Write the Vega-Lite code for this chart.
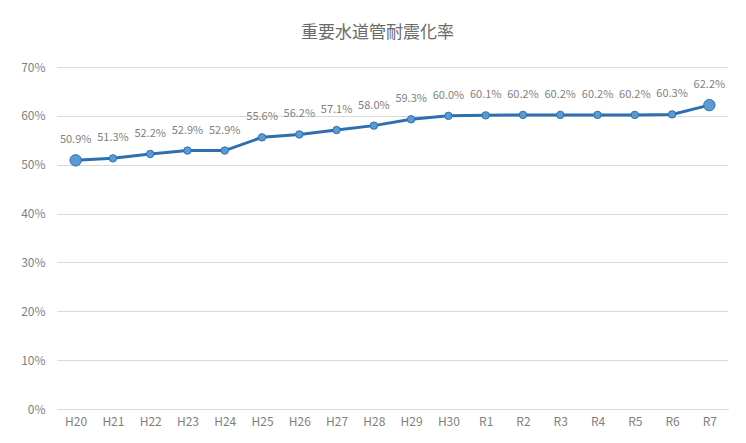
{
  "$schema": "https://vega.github.io/schema/vega-lite/v6.json",
  "width": 671,
  "height": 342,
  "autosize": {"type": "none"},
  "padding": {"left": 57, "top": 67, "right": 18, "bottom": 34},
  "background": "white",
  "title": {
    "text": "重要水道管耐震化率",
    "font": "Noto Sans CJK JP",
    "fontSize": 17,
    "fontWeight": "normal",
    "color": "#6a6a6a",
    "anchor": "middle",
    "dx": -15,
    "offset": 19
  },
  "config": {
    "view": {"stroke": null},
    "font": "Noto Sans CJK JP"
  },
  "data": {
    "values": [
      {"year": "H20", "rate": 0.509, "big": true},
      {"year": "H21", "rate": 0.513, "big": false},
      {"year": "H22", "rate": 0.522, "big": false},
      {"year": "H23", "rate": 0.529, "big": false},
      {"year": "H24", "rate": 0.529, "big": false},
      {"year": "H25", "rate": 0.556, "big": false},
      {"year": "H26", "rate": 0.562, "big": false},
      {"year": "H27", "rate": 0.571, "big": false},
      {"year": "H28", "rate": 0.580, "big": false},
      {"year": "H29", "rate": 0.593, "big": false},
      {"year": "H30", "rate": 0.600, "big": false},
      {"year": "R1", "rate": 0.601, "big": false},
      {"year": "R2", "rate": 0.602, "big": false},
      {"year": "R3", "rate": 0.602, "big": false},
      {"year": "R4", "rate": 0.602, "big": false},
      {"year": "R5", "rate": 0.602, "big": false},
      {"year": "R6", "rate": 0.603, "big": false},
      {"year": "R7", "rate": 0.622, "big": true}
    ]
  },
  "encoding": {
    "x": {
      "field": "year",
      "type": "ordinal",
      "sort": null,
      "scale": {"type": "point", "padding": 0.5},
      "axis": {
        "title": null,
        "labelAngle": 0,
        "labelFontSize": 12,
        "labelColor": "#7f7f7f",
        "labelPadding": 7,
        "ticks": false,
        "domainColor": "#d9d9d9",
        "domainWidth": 1,
        "grid": false
      }
    },
    "y": {
      "field": "rate",
      "type": "quantitative",
      "scale": {"domain": [0, 0.7]},
      "axis": {
        "title": null,
        "values": [0, 0.1, 0.2, 0.3, 0.4, 0.5, 0.6, 0.7],
        "format": ".0%",
        "labelFontSize": 12,
        "labelColor": "#7f7f7f",
        "labelPadding": 12,
        "ticks": false,
        "domain": false,
        "gridColor": "#d9d9d9",
        "gridWidth": 1
      }
    }
  },
  "layer": [
    {
      "mark": {"type": "line", "color": "#2e6fb0", "strokeWidth": 3}
    },
    {
      "mark": {"type": "point", "filled": true, "fill": "#5b9bd5", "stroke": "#2e6fb0", "strokeWidth": 1, "opacity": 1},
      "encoding": {
        "size": {
          "field": "big",
          "type": "nominal",
          "scale": {"domain": [true, false], "range": [130, 55]},
          "legend": null
        }
      }
    },
    {
      "mark": {"type": "text", "dy": -20, "fontSize": 11, "color": "#7f7f7f", "baseline": "middle"},
      "encoding": {
        "text": {"field": "rate", "type": "quantitative", "format": ".1%"}
      }
    }
  ]
}
